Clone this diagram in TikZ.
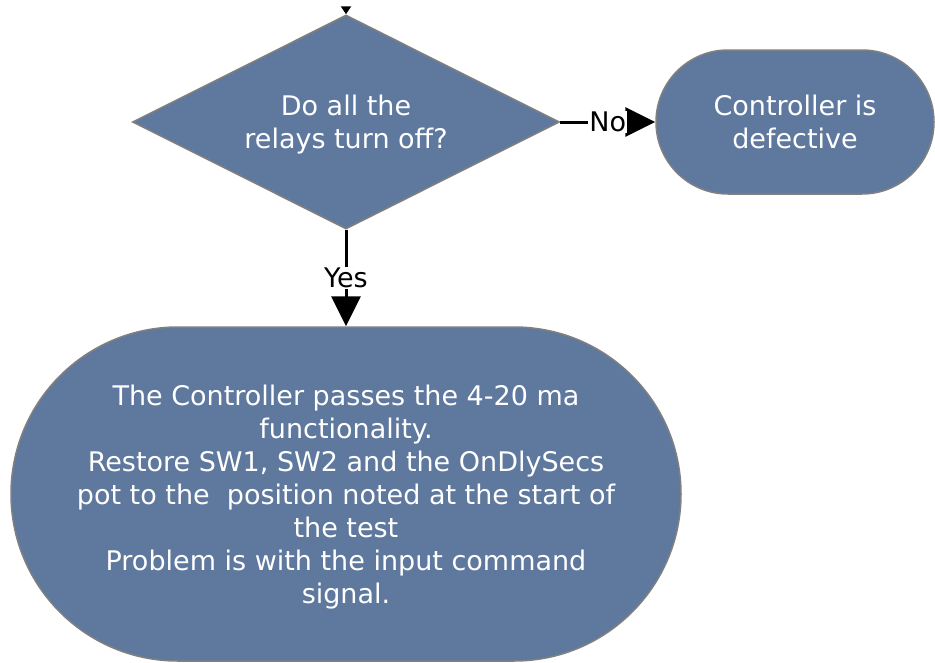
\documentclass[tikz,border=0pt]{standalone}
\usepackage{fontspec}
\setmainfont{DejaVu Sans}
\usetikzlibrary{arrows.meta}
\usetikzlibrary{positioning, shapes.geometric}

\definecolor{flowfill}{RGB}{95,120,158}
\definecolor{flowline}{RGB}{128,128,128}

\begin{document}
\begin{tikzpicture}[
        x=1pt, y=-1pt,
        >={Triangle[length=30pt,width=29pt]},
        every node/.style={font=\fontsize{27}{33}\selectfont},
        decision/.style={diamond, aspect=2, draw=flowline, line width=1.5pt, fill=flowfill,
            text=white, align=center, inner sep=0pt, text depth=0pt},
        endbox/.style={rectangle, draw=flowline, line width=1.5pt, fill=flowfill,
            text=white, align=center, inner sep=0pt, text depth=0pt},
        flow/.style={->, line width=3pt},
        answer/.style={fill=white, inner sep=1pt}
    ]

    \useasboundingbox (0,0) rectangle (935,662);

    % Decision node
    \node[decision, minimum width=427pt, minimum height=214pt] (relays) at (346,122)
        {Do all the\\relays turn off?};

    % Terminal nodes
    \node[endbox, minimum width=278pt, minimum height=144pt, rounded corners=72pt]
        (defective) at (795,122) {Controller is\\defective};
    \node[endbox, minimum width=670pt, minimum height=334pt, rounded corners=167pt]
        (passes) at (346,494)
        {The Controller passes the 4-20 ma\\functionality.\\Restore SW1, SW2 and the OnDlySecs\\pot to the~ position noted at the start of\\the test\\Problem is with the input command\\signal.};

    % Incoming arrow from above
    \coordinate (incoming) at (346,7);
    \draw[-{Triangle[length=8pt,width=10pt]}, line width=3pt] (incoming) -- (relays.north);

    % No branch
    \draw[flow] (relays.east) -- (defective.west) node[midway, answer] {No};

    % Yes branch
    \draw[flow] (relays.south) -- (passes.north) node[midway, answer] {Yes};

\end{tikzpicture}
\end{document}
